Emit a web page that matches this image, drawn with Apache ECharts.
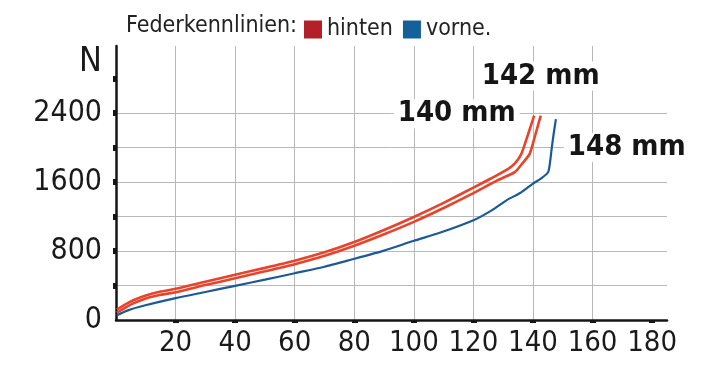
<!DOCTYPE html>
<html>
<head>
<meta charset="utf-8">
<script src="https://cdn.jsdelivr.net/npm/echarts@6/dist/echarts.min.js"></script>
<style>
  html, body { margin: 0; padding: 0; background: #fff; }
  #chart { width: 712px; height: 376px; }
</style>
</head>
<body>
<div id="chart"></div>
<script>
// Federweg (mm) -> Kraft (N)
const hinten140 = [[0.3,120],[3,178],[6,232],[10,285],[15,330],[20,362],[30,445],[40,526],[50,605],[60,688],[70,785],[80,905],[90,1045],[100,1196],[110,1360],[120,1536],[126,1645],[131.7,1755],[134,1820],[136.1,1928],[138.3,2150],[140.4,2371]];
const hinten142 = [[0.3,85],[3,142],[6,196],[10,250],[15,292],[20,322],[30,405],[40,485],[50,565],[60,648],[70,745],[80,862],[90,995],[100,1139],[110,1300],[120,1473],[128,1620],[133.9,1716],[136.5,1820],[138.9,1928],[140.8,2150],[142.6,2371]];
const vorne148 = [[0.3,55],[4,112],[9.2,165],[20,254],[30,325],[40,396],[50,468],[60,543],[70,618],[78.5,696],[90,805],[100,919],[108.7,1012],[120,1158],[126,1270],[131.1,1389],[136,1480],[140,1582],[143,1650],[145.1,1716],[145.8,1850],[146.2,1967],[146.9,2150],[147.7,2332]];

const ticksX = [20, 40, 60, 80, 100, 120, 140, 160, 180];
const ticksY = [400, 800, 1200, 1600, 2000, 2400, 2800];
const labelsY = [0, 800, 1600, 2400];

// Beschriftung der Kurven: [text, mm, N]
const curveLabels = [['140 mm', 114.4, 2394], ['142 mm', 142.6, 2832], ['148 mm', 171.5, 2001]];

const FONT = '"DejaVu Sans Condensed", "Liberation Sans Narrow", sans-serif';
const RED = '#e8432b';
const BLUE = '#1b5a97';

const chart = echarts.init(document.getElementById('chart'));

function labelPoint(i) {
  const l = curveLabels[i];
  return {
    symbolSize: 0,
    data: [{ name: l[0], coord: [l[1], l[2]] }],
    label: {
      show: true, position: 'inside', formatter: '{b}',
      fontFamily: FONT, fontSize: 29, fontWeight: 'bold', color: '#151515',
      backgroundColor: '#fff', padding: [0, 4]
    }
  };
}

const option = {
  animation: false,
  backgroundColor: '#fff',
  title: {
    text: 'Federkennlinien:',
    left: 121, top: 10,
    textStyle: { fontFamily: FONT, fontSize: 23, fontWeight: 'normal', color: '#222' }
  },
  legend: {
    left: 299, top: 13,
    icon: 'rect', itemWidth: 18, itemHeight: 18, itemGap: 10,
    textStyle: { fontFamily: FONT, fontSize: 23, color: '#222' },
    data: [
      { name: 'hinten', itemStyle: { color: '#b3202a' } },
      { name: 'vorne.', itemStyle: { color: '#14609a' } }
    ]
  },
  grid: { left: 116, right: 45, top: 46, bottom: 56 },
  xAxis: {
    type: 'value', min: 0, max: 185, interval: 20,
    axisLine: { lineStyle: { color: '#151515', width: 2.5 } },
    axisTick: { show: true, length: 3, customValues: ticksX, lineStyle: { color: '#151515', width: 6 } },
    axisLabel: {
      customValues: ticksX, margin: 9,
      fontFamily: FONT, fontSize: 29, color: '#1a1a1a',
      formatter: v => (v > 0 && v <= 180) ? String(v) : ''
    },
    splitLine: { show: true, showMaxLine: false, lineStyle: { color: '#b8b8b8', width: 1 } }
  },
  yAxis: {
    type: 'value', min: 0, max: 3180, interval: 400,
    name: 'N', nameLocation: 'end', nameGap: 1,
    nameTextStyle: { fontFamily: FONT, fontSize: 34, color: '#1a1a1a', align: 'right', verticalAlign: 'top', padding: [0, 14, 0, 0] },
    axisLine: { show: true, lineStyle: { color: '#151515', width: 2.5 } },
    axisTick: { show: true, length: 3, customValues: ticksY, lineStyle: { color: '#151515', width: 6 } },
    axisLabel: {
      customValues: labelsY, margin: 14,
      fontFamily: FONT, fontSize: 30, color: '#1a1a1a',
      formatter: v => (v % 800 === 0 && v <= 2400) ? String(v) : ''
    },
    splitLine: { show: true, showMaxLine: false, lineStyle: { color: '#b8b8b8', width: 1 } }
  },
  series: [
    {
      name: 'vorne.', type: 'line', data: vorne148, showSymbol: false, smooth: 0.2,
      lineStyle: { color: BLUE, width: 2.2 }, itemStyle: { color: BLUE },
      markPoint: labelPoint(2)
    },
    {
      name: 'hinten', type: 'line', data: hinten142, showSymbol: false, smooth: 0.2,
      lineStyle: { color: RED, width: 2.6 }, itemStyle: { color: RED },
      markPoint: labelPoint(1)
    },
    {
      name: 'hinten', type: 'line', data: hinten140, showSymbol: false, smooth: 0.2,
      lineStyle: { color: RED, width: 2.6 }, itemStyle: { color: RED },
      markPoint: labelPoint(0)
    }
  ]
};

chart.setOption(option);
</script>
</body>
</html>
